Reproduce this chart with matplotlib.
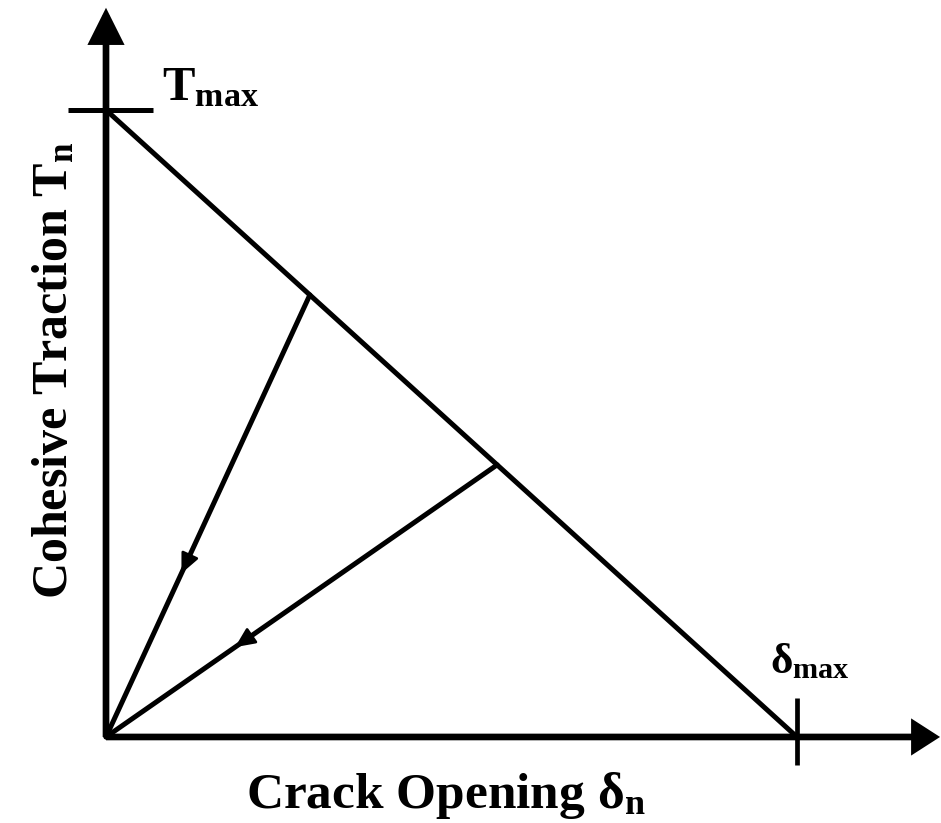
import matplotlib
matplotlib.use("Agg")
import matplotlib.pyplot as plt
from matplotlib.patches import FancyArrowPatch

plt.rcParams['font.family'] = ['Liberation Serif', 'DejaVu Serif']
plt.rcParams['font.weight'] = 'bold'
plt.rcParams['mathtext.fontset'] = 'custom'
plt.rcParams['mathtext.rm'] = 'Liberation Serif:bold'
plt.rcParams['mathtext.bf'] = 'Liberation Serif:bold'
plt.rcParams['mathtext.it'] = 'Liberation Serif:bold'

# bilinear (triangular) cohesive law, normalised
t_max = 1.0
delta_max = 1.0
envelope_delta = [0.0, delta_max]
envelope_traction = [t_max, 0.0]

# points on the softening branch where unloading starts
unload_delta = [0.295, 0.566]
unload_traction = [0.705, 0.434]
# where the direction arrow sits along each unloading path (fraction from origin)
arrow_pos = [0.37, 0.33]

fig = plt.figure(figsize=(9.41, 8.23), dpi=100)
ax = fig.add_axes([0, 0, 1, 1])
ax.set_xlim(-0.1534, 1.2084)
ax.set_ylim(-0.1372, 1.1754)
ax.axis('off')

# coordinate axes with arrow heads
for tip, hl, hw in [((0, 1.163), 19, 9.5), ((1.207, 0), 14, 9.0)]:
    ax.add_patch(FancyArrowPatch((0, 0), tip,
                                 arrowstyle='-|>,head_length=%g,head_width=%g' % (hl, hw),
                                 mutation_scale=1, lw=4.8, color='black',
                                 shrinkA=0, shrinkB=0, joinstyle='miter',
                                 capstyle='butt'))

# Tmax and delta_max tick marks
ax.plot([-0.055, 0.068], [t_max, t_max], color='black', lw=3.6, solid_capstyle='butt')
ax.plot([delta_max, delta_max], [0.062, -0.045], color='black', lw=3.4, solid_capstyle='butt')

# softening envelope
ax.plot(envelope_delta, envelope_traction, color='black', lw=3.6)

# unloading paths back to the origin
for d, t, f in zip(unload_delta, unload_traction, arrow_pos):
    ax.plot([0, d], [0, t], color='black', lw=3.6, solid_capstyle='round')
    ax.add_patch(FancyArrowPatch((d * (f + 0.1), t * (f + 0.1)), (d * f, t * f),
                                 arrowstyle='-|>,head_length=12,head_width=5.5',
                                 mutation_scale=1, lw=2.0, color='black',
                                 shrinkA=0, shrinkB=0))

ax.text(0.081, 1.016, r'$\mathrm{T}_{\mathrm{max}}$', fontsize=35,
        ha='left', va='baseline')
ax.text(0.961, 0.102, r'$\mathrm{δ}_{\mathrm{max}}$', fontsize=31,
        ha='left', va='baseline')
ax.text(0.492, -0.1132, r'Crack Opening $\mathrm{δ}_{\mathrm{n}}$', fontsize=37,
        fontweight='bold', ha='center', va='baseline')
ax.text(-0.0564, 0.585, r'Cohesive Traction $\mathrm{T}_{\mathrm{n}}$', fontsize=36,
        fontweight='bold', rotation=90, rotation_mode='anchor',
        ha='center', va='baseline')

fig.savefig('out.png', dpi=100)
